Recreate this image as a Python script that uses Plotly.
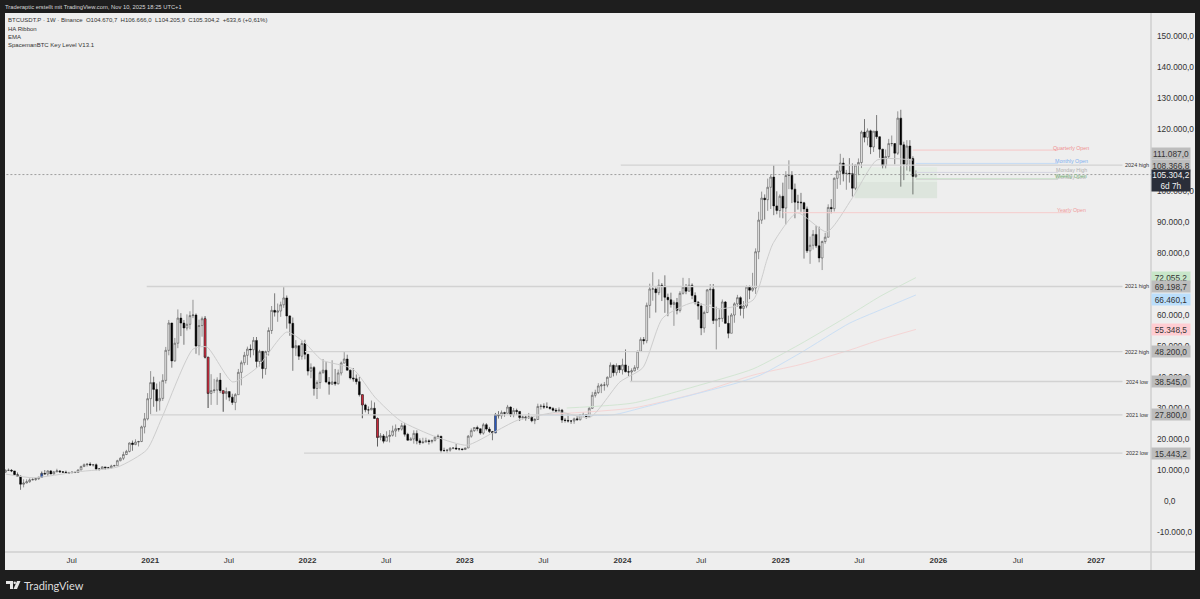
import numpy as np
import pandas as pd
import plotly.graph_objects as go

# Weekly candles, in thousands of USDT, first week is 2020-02-03
week_open = [
    # 2020
    9.3, 9.9, 9.9, 9.7, 8.5, 8.0, 5.4, 5.8, 6.2, 6.8, 6.9, 7.2, 7.7,
    8.9, 8.7, 9.7, 8.7, 9.4, 9.7, 9.4, 9.3, 9.0, 9.1, 9.3, 9.2, 10.0,
    11.1, 11.7, 11.9, 11.6, 11.7, 10.3, 10.3, 11.0, 10.7, 10.7, 11.3, 11.4, 13.0,
    13.8, 15.0, 16.0, 18.7, 18.2, 19.0, 19.2, 23.9, 26.5,
    # 2021
    33.0, 38.2, 36.0, 32.3, 33.1, 38.9, 48.6, 57.4, 45.2, 50.9, 59.0, 57.4, 55.8,
    57.0, 59.8, 60.0, 50.0, 56.6, 58.8, 46.4, 34.7, 35.6, 35.8, 39.0, 35.6, 34.7,
    35.3, 33.5, 31.8, 34.3, 41.5, 44.6, 47.0, 49.0, 48.8, 51.8, 45.0, 48.3, 42.7,
    48.2, 55.0, 61.5, 60.9, 61.3, 63.3, 65.5, 59.7, 57.3, 49.4, 50.1, 46.7, 50.8,
    # 2022
    47.3, 41.9, 43.1, 36.3, 38.2, 41.4, 42.2, 38.4, 37.7, 38.4, 37.8, 41.3, 44.5,
    45.8, 42.2, 39.7, 39.4, 38.5, 34.3, 31.0, 29.4, 29.4, 29.9, 26.6, 20.5, 21.0,
    19.3, 20.8, 21.2, 22.6, 23.3, 23.2, 24.3, 21.5, 19.6, 20.0, 21.8, 19.4, 18.8,
    19.0, 19.4, 19.2, 19.6, 20.6, 20.9, 16.3, 16.3, 16.4, 17.0, 17.1, 16.8, 16.8,
    # 2023
    16.6, 17.1, 20.9, 22.7, 23.7, 23.3, 21.9, 24.6, 23.2, 22.4, 22.0, 27.9, 27.5,
    28.5, 28.3, 30.3, 27.8, 29.2, 28.9, 26.9, 27.1, 26.8, 27.1, 25.9, 26.3, 30.5,
    30.6, 30.3, 30.3, 29.8, 29.3, 29.0, 29.3, 26.1, 26.0, 25.8, 25.8, 26.5, 26.2,
    27.9, 27.9, 27.2, 29.9, 34.1, 35.0, 37.1, 37.4, 37.4, 39.9, 43.8, 41.4, 43.7,
    # 2024
    42.3, 43.9, 41.7, 41.6, 42.0, 43.0, 48.3, 52.1, 51.7, 63.1, 68.4, 68.4, 67.2,
    69.6, 69.3, 65.7, 64.9, 63.4, 64.0, 61.5, 67.0, 69.0, 67.7, 69.6, 66.3, 64.2,
    62.9, 55.8, 60.8, 68.1, 68.3, 58.2, 58.7, 58.9, 64.2, 57.3, 54.1, 60.0, 63.6,
    65.6, 62.1, 62.9, 69.0, 68.0, 68.7, 80.4, 90.6, 97.7, 97.2, 101.2, 104.5, 95.2, 93.7,
    # 2025
    98.3, 94.5, 105.0, 105.1, 100.6, 96.4, 96.4, 96.2, 94.2, 80.7, 82.5, 86.0, 82.3,
    78.4, 83.7, 85.1, 94.7, 94.3, 104.1, 106.4, 109.0, 105.6, 105.7, 105.6, 100.9, 108.4,
    109.2, 119.0, 117.3, 119.4, 114.2, 119.3, 117.5, 113.5, 108.2, 111.1, 115.3, 115.3, 112.2,
    123.5, 114.9, 108.6, 114.5, 110.5, 104.67,
]
week_high = [
    # 2020
    10.2, 10.5, 10.3, 9.7, 9.2, 8.2, 7.0, 7.0, 7.3, 7.5, 7.3, 7.8, 9.5,
    10.0, 9.9, 10.0, 9.7, 10.4, 10.0, 9.6, 9.8, 9.4, 9.5, 9.3, 10.2, 11.4,
    12.1, 12.1, 12.5, 11.8, 12.1, 10.6, 11.2, 11.0, 11.0, 11.7, 11.7, 13.3, 14.1,
    15.9, 16.5, 18.9, 19.5, 19.9, 19.4, 24.3, 28.4, 34.8,
    # 2021
    41.9, 40.1, 37.9, 38.5, 40.9, 49.7, 58.4, 57.5, 52.6, 61.8, 60.6, 58.4, 60.2,
    61.2, 64.9, 60.5, 58.5, 59.5, 59.6, 46.4, 40.9, 39.4, 39.9, 41.3, 35.6, 36.6,
    35.3, 34.6, 34.8, 42.6, 45.3, 48.1, 49.8, 50.5, 52.9, 52.9, 48.8, 48.3, 48.5,
    56.0, 62.9, 67.0, 63.7, 64.3, 69.0, 66.3, 59.9, 59.2, 51.9, 50.1, 51.8, 52.0,
    # 2022
    47.5, 44.4, 43.5, 38.9, 42.0, 45.8, 44.8, 40.0, 45.4, 42.6, 42.4, 45.0, 48.2,
    47.2, 42.4, 42.9, 40.8, 40.0, 34.3, 31.4, 30.5, 32.4, 31.8, 26.9, 21.9, 21.6,
    22.5, 22.9, 24.3, 24.7, 23.5, 25.2, 25.2, 22.0, 20.6, 22.8, 22.8, 20.2, 20.4,
    20.4, 19.9, 19.7, 21.0, 21.5, 21.0, 17.2, 16.8, 17.4, 17.4, 18.4, 17.0, 16.9,
    # 2023
    17.2, 21.3, 23.4, 23.8, 24.3, 23.4, 25.2, 25.1, 23.9, 22.6, 28.4, 29.0, 29.2,
    28.8, 31.0, 30.5, 30.0, 29.8, 29.0, 27.6, 27.5, 28.4, 27.4, 26.8, 31.4, 31.3,
    31.5, 31.8, 30.3, 30.3, 30.0, 30.2, 29.7, 26.8, 28.2, 26.1, 26.9, 27.5, 28.0,
    28.6, 28.0, 30.3, 35.2, 35.9, 38.0, 37.9, 38.4, 40.2, 44.7, 44.0, 44.4, 43.8,
    # 2024
    45.9, 48.9, 43.6, 42.8, 43.8, 48.5, 52.8, 52.9, 64.0, 70.1, 73.8, 68.9, 71.5,
    70.3, 72.8, 66.9, 67.2, 64.7, 65.5, 67.7, 72.0, 70.0, 71.9, 70.2, 67.3, 64.4,
    63.8, 61.4, 68.4, 70.0, 70.0, 62.7, 61.8, 65.0, 64.5, 59.8, 60.6, 64.1, 66.5,
    66.0, 64.5, 69.5, 69.5, 73.6, 81.5, 93.3, 99.8, 98.9, 104.0, 105.2, 108.3, 99.9, 98.9,
    # 2025
    102.7, 106.4, 109.9, 106.4, 102.4, 98.8, 99.4, 96.5, 95.0, 85.3, 87.4, 88.8, 88.5,
    84.0, 86.5, 95.7, 97.4, 104.4, 106.6, 112.0, 110.7, 106.8, 110.6, 108.9, 108.5, 110.5,
    119.5, 123.2, 120.2, 119.8, 119.3, 124.5, 117.6, 113.6, 113.4, 116.8, 117.9, 115.4, 125.7,
    126.2, 115.9, 116.4, 116.4, 111.2, 106.67,
]
week_low = [
    # 2020
    9.1, 9.7, 9.3, 8.4, 8.0, 3.6, 4.4, 5.7, 5.9, 6.7, 6.5, 6.8, 7.7,
    8.6, 8.1, 8.8, 8.6, 9.3, 9.1, 9.2, 8.9, 8.9, 9.0, 9.0, 9.1, 10.0,
    11.0, 11.1, 11.4, 11.1, 9.9, 9.8, 10.2, 10.1, 10.3, 10.5, 11.2, 11.4, 12.8,
    13.2, 14.8, 15.7, 16.2, 18.0, 17.6, 19.0, 21.8, 26.0,
    # 2021
    28.0, 30.4, 28.8, 29.2, 32.3, 37.9, 47.0, 43.0, 44.9, 49.3, 53.2, 50.4, 55.0,
    55.4, 59.0, 47.5, 47.0, 53.0, 46.0, 30.0, 31.0, 34.8, 31.0, 34.8, 28.8, 32.7,
    32.2, 31.0, 29.3, 34.3, 37.3, 43.8, 43.9, 46.3, 47.0, 43.0, 43.4, 39.5, 40.7,
    46.9, 53.9, 59.5, 57.8, 59.4, 62.3, 55.6, 53.3, 42.0, 46.8, 45.5, 45.6, 45.7,
    # 2022
    40.5, 39.6, 34.0, 32.9, 36.2, 41.1, 38.0, 34.3, 37.4, 37.2, 37.6, 40.5, 44.4,
    42.1, 39.2, 38.5, 37.6, 33.7, 26.7, 28.6, 28.0, 29.3, 26.5, 17.6, 19.6, 18.6,
    19.3, 18.9, 20.8, 20.7, 22.4, 22.7, 20.8, 19.5, 19.5, 18.5, 18.3, 18.1, 18.5,
    19.0, 18.2, 18.6, 19.2, 20.0, 15.6, 15.8, 15.5, 15.9, 16.7, 16.5, 16.3, 16.3,
    # 2023
    16.5, 17.1, 20.4, 22.3, 22.5, 21.4, 21.4, 22.7, 21.9, 19.6, 21.9, 26.6, 26.5,
    27.2, 28.2, 27.1, 27.0, 27.7, 25.8, 26.3, 25.9, 26.5, 25.4, 24.8, 26.2, 29.5,
    29.7, 29.9, 29.5, 28.9, 28.6, 28.7, 25.2, 25.3, 25.3, 24.9, 24.9, 26.0, 26.0,
    27.2, 26.5, 27.0, 29.7, 33.4, 34.5, 34.8, 35.6, 36.7, 39.9, 40.2, 40.5, 41.3,
    # 2024
    40.8, 41.5, 40.3, 38.5, 41.8, 42.3, 48.3, 50.5, 50.9, 59.0, 64.6, 60.8, 66.4,
    64.5, 60.7, 59.6, 62.4, 56.5, 60.2, 60.8, 66.6, 66.7, 67.5, 65.1, 63.4, 58.5,
    53.5, 54.3, 60.6, 63.4, 57.1, 48.9, 56.1, 57.8, 57.2, 52.5, 54.1, 57.5, 62.6,
    59.8, 58.9, 62.2, 65.1, 67.5, 66.8, 78.0, 89.4, 90.8, 93.6, 94.2, 92.2, 92.5, 91.4,
    # 2025
    91.2, 89.2, 100.6, 96.1, 91.2, 94.0, 93.3, 78.2, 80.0, 76.5, 81.1, 81.6, 77.0,
    74.5, 83.0, 85.0, 92.8, 93.4, 100.7, 102.0, 103.1, 100.4, 102.7, 98.2, 100.3, 105.1,
    107.4, 115.7, 114.7, 111.9, 112.6, 116.8, 110.7, 107.3, 107.3, 110.6, 114.4, 108.6, 111.6,
    101.4, 103.5, 106.6, 106.3, 98.9, 104.21,
]
week_close = [
    # 2020
    9.9, 9.9, 9.7, 8.5, 8.0, 5.4, 5.8, 6.2, 6.8, 6.9, 7.2, 7.7, 8.9,
    8.7, 9.7, 8.7, 9.4, 9.7, 9.4, 9.3, 9.0, 9.1, 9.3, 9.2, 10.0, 11.1,
    11.7, 11.9, 11.6, 11.7, 10.3, 10.3, 11.0, 10.7, 10.7, 11.3, 11.4, 13.0, 13.8,
    15.0, 16.0, 18.7, 18.2, 19.0, 19.2, 23.9, 26.5, 33.0,
    # 2021
    38.2, 36.0, 32.3, 33.1, 38.9, 48.6, 57.4, 45.2, 50.9, 59.0, 57.4, 55.8, 57.0,
    59.8, 60.0, 50.0, 56.6, 58.8, 46.4, 34.7, 35.6, 35.8, 39.0, 35.6, 34.7, 35.3,
    33.5, 31.8, 34.3, 41.5, 44.6, 47.0, 49.0, 48.8, 51.8, 45.0, 48.3, 42.7, 48.2,
    55.0, 61.5, 60.9, 61.3, 63.3, 65.5, 59.7, 57.3, 49.4, 50.1, 46.7, 50.8, 47.3,
    # 2022
    41.9, 43.1, 36.3, 38.2, 41.4, 42.2, 38.4, 37.7, 38.4, 37.8, 41.3, 44.5, 45.8,
    42.2, 39.7, 39.4, 38.5, 34.3, 31.0, 29.4, 29.4, 29.9, 26.6, 20.5, 21.0, 19.3,
    20.8, 21.2, 22.6, 23.3, 23.2, 24.3, 21.5, 19.6, 20.0, 21.8, 19.4, 18.8, 19.0,
    19.4, 19.2, 19.6, 20.6, 20.9, 16.3, 16.3, 16.4, 17.0, 17.1, 16.8, 16.8, 16.6,
    # 2023
    17.1, 20.9, 22.7, 23.7, 23.3, 21.9, 24.6, 23.2, 22.4, 22.0, 27.9, 27.5, 28.5,
    28.3, 30.3, 27.8, 29.2, 28.9, 26.9, 27.1, 26.8, 27.1, 25.9, 26.3, 30.5, 30.6,
    30.3, 30.3, 29.8, 29.3, 29.0, 29.3, 26.1, 26.0, 25.8, 25.8, 26.5, 26.2, 27.9,
    27.9, 27.2, 29.9, 34.1, 35.0, 37.1, 37.4, 37.4, 39.9, 43.8, 41.4, 43.7, 42.3,
    # 2024
    43.9, 41.7, 41.6, 42.0, 43.0, 48.3, 52.1, 51.7, 63.1, 68.4, 68.4, 67.2, 69.6,
    69.3, 65.7, 64.9, 63.4, 64.0, 61.5, 67.0, 69.0, 67.7, 69.6, 66.3, 64.2, 62.9,
    55.8, 60.8, 68.1, 68.3, 58.2, 58.7, 58.9, 64.2, 57.3, 54.1, 60.0, 63.6, 65.6,
    62.1, 62.9, 69.0, 68.0, 68.7, 80.4, 90.6, 97.7, 97.2, 101.2, 104.5, 95.2, 93.7, 98.3,
    # 2025
    94.5, 105.0, 105.1, 100.6, 96.4, 96.4, 96.2, 94.2, 80.7, 82.5, 86.0, 82.3, 78.4,
    83.7, 85.1, 94.7, 94.3, 104.1, 106.4, 109.0, 105.6, 105.7, 105.6, 100.9, 108.4, 109.2,
    119.0, 117.3, 119.4, 114.2, 119.3, 117.5, 113.5, 108.2, 111.1, 115.3, 115.3, 112.2, 123.5,
    114.9, 108.6, 114.5, 110.5, 104.7, 105.3,
]
assert len(week_open) == len(week_high) == len(week_low) == len(week_close)

# Candles the HA Ribbon paints in another colour
red_weeks = ["2021-05-10", "2021-05-17", "2021-06-21", "2022-05-09", "2022-06-13"]
blue_weeks = ["2020-04-27", "2023-03-13"]

# EMA (thousands)
ema_dates = [
    "2020-02-03", "2020-04-07", "2020-07-17", "2020-10-20", "2020-12-26", "2021-01-30",
    "2021-04-12", "2021-05-14", "2021-07-13", "2021-09-07", "2021-11-15", "2021-12-27",
    "2022-02-04", "2022-04-17", "2022-06-07", "2022-08-04", "2022-10-28", "2023-01-06",
    "2023-03-07", "2023-05-02", "2023-06-24", "2023-08-09", "2023-10-18", "2023-12-26",
    "2024-02-17", "2024-04-03", "2024-06-12", "2024-08-13", "2024-10-29", "2024-11-30",
    "2024-12-14", "2025-02-08", "2025-04-18", "2025-06-17", "2025-08-12", "2025-11-03",
]
ema_values = [
    8.7, 7.5, 9.4, 11.0, 16.5, 26.8, 49.0, 49.7, 38.4, 43.0, 54.5, 51.0,
    45.5, 42.6, 33.5, 26.0, 20.6, 18.0, 22.0, 26.0, 27.7, 28.7, 27.0, 38.4,
    43.0, 59.0, 64.0, 62.0, 64.8, 77.7, 83.0, 93.0, 86.8, 98.0, 110.0, 110.0,
]

# MA ribbon lines (thousands)
ribbon_green_dates = ["2023-08-25", "2024-01-25", "2024-06-28", "2024-10-29", "2025-02-15", "2025-06-10", "2025-08-19", "2025-11-10"]
ribbon_green = [30.0, 31.6, 37.4, 42.6, 50.6, 60.0, 66.0, 72.06]
ribbon_red_dates = ["2023-06-24", "2024-01-25", "2024-06-28", "2024-10-29", "2025-02-15", "2025-06-10", "2025-08-19", "2025-11-10"]
ribbon_red = [27.8, 30.0, 35.0, 40.6, 44.0, 48.7, 52.0, 55.35]
ribbon_blue_dates = ["2023-06-24", "2023-12-10", "2024-02-13", "2024-09-20", "2024-11-15", "2025-02-15", "2025-06-10", "2025-08-19", "2025-11-10"]
ribbon_blue = [27.8, 27.8, 30.0, 38.0, 40.6, 47.7, 57.4, 61.6, 66.46]

# Key levels with a small label at the right
level_names = ["2024 high", "2021 high", "2022 high", "2024 low", "2021 low", "2022 low"]
level_values = [108366.8, 69198.7, 48200.0, 38545.0, 27800.0, 15443.2]
level_starts = ["2023-12-28", "2020-12-26", "2021-12-27", "2024-01-18", "2021-01-03", "2021-12-25"]
level_end = "2027-03-03"

# Open levels
open_names = ["Quarterly Open", "Monthly Open", "Monday High", "Monday Low", "Weekly Open", "Yearly Open"]
open_values = [113200, 108900, 106000, 103700, 104000, 93000]
open_starts = ["2025-11-03", "2025-11-10", "2025-11-10", "2025-11-10", "2025-11-10", "2025-01-06"]
open_ends = ["2026-10-05", "2026-10-05", "2026-10-05", "2026-10-05", "2026-10-05", "2026-11-01"]
open_colors = ["#f6c6c6", "#c4dbf5", "#d4d4e0", "#d6d6d6", "#cde2cd", "#f6cccc"]
open_text_colors = ["#ef8f8f", "#7fb0ee", "#b0b0b0", "#b8b8b8", "#7db87d", "#ef9a9a"]

# Green zone
zone_start = "2025-06-21"
zone_end = "2025-12-29"
zone_edges = [107700, 102900, 97700]

last_price = 105304.2

# Axis labels
price_ticks = [150000, 140000, 130000, 120000, 100000, 90000, 80000, 60000, 50000, 40000, 30000, 20000, 10000, 0, -10000]
price_labels = ["150.000,0", "140.000,0", "130.000,0", "120.000,0", "100.000,0", "90.000,0", "80.000,0",
                "60.000,0", "50.000,0", "40.000,0", "30.000,0", "20.000,0", "10.000,0", "\u00a0\u00a0\u00a00,0", "-10.000,0"]
time_ticks = ["2020-07-05", "2021-01-03", "2021-07-04", "2022-01-02", "2022-07-03", "2023-01-01", "2023-07-02",
              "2024-01-01", "2024-07-01", "2025-01-01", "2025-07-02", "2026-01-01", "2026-07-04", "2027-01-01"]
time_labels = ["Jul", "<b>2021</b>", "Jul", "<b>2022</b>", "Jul", "<b>2023</b>", "Jul",
               "<b>2024</b>", "Jul", "<b>2025</b>", "Jul", "<b>2026</b>", "Jul", "<b>2027</b>"]

# Price badges on the axis
badge_values = [111087.0, 108366.8, 72055.2, 69198.7, 66460.1, 55348.5, 48200.0, 38545.0, 27800.0, 15443.2]
badge_fills = ["#bdbdbd", "#bdbdbd", "#c8e6c9", "#bdbdbd", "#bbdefb", "#ffcdd2", "#bdbdbd", "#bdbdbd", "#bdbdbd", "#bdbdbd"]
badge_shifts = [-3, 0, 0, 0, 5, 0, 0, 0, 0, 0]

W, H = 1200, 599
FONT = "Liberation Sans"


def px(x):
    return x / W


def py(y):
    return 1 - y / H


def price_text(v):
    return f"{v:,.1f}".replace(",", "X").replace(".", ",").replace("X", ".")


dates = pd.date_range("2020-02-03", periods=len(week_close), freq="7D")
o = np.array(week_open) * 1000
h = np.array(week_high) * 1000
l = np.array(week_low) * 1000
c = np.array(week_close) * 1000

fig = go.Figure()

# Ribbon + EMA under the candles
for xs, ys, col in [(ribbon_green_dates, ribbon_green, "#d3e6d3"),
                    (ribbon_red_dates, ribbon_red, "#f5d5d5"),
                    (ribbon_blue_dates, ribbon_blue, "#cbdff5"),
                    (ema_dates, ema_values, "#cdcdcd")]:
    fig.add_trace(go.Scatter(x=xs, y=np.array(ys) * 1000, mode="lines",
                             line=dict(color=col, width=1, shape="spline", smoothing=0.6),
                             hoverinfo="skip"))

for start, val in zip(level_starts, level_values):
    fig.add_trace(go.Scatter(x=[start, level_end], y=[val, val], mode="lines",
                             line=dict(color="#d2d2d2", width=1.3), hoverinfo="skip"))

for start, end, val, col in zip(open_starts, open_ends, open_values, open_colors):
    fig.add_trace(go.Scatter(x=[start, end], y=[val, val], mode="lines",
                             line=dict(color=col, width=1), hoverinfo="skip"))

# last price line
fig.add_trace(go.Scatter(x=[dates[0] - pd.Timedelta(days=7), "2027-05-08"], y=[last_price, last_price], mode="lines",
                         line=dict(color="#8a8a8a", width=0.8, dash="2px,2px"), hoverinfo="skip"))

# Candles
fig.add_trace(go.Candlestick(
    x=dates, open=o, high=h, low=l, close=c, whiskerwidth=0,
    increasing=dict(line=dict(color="#3a3a3a", width=0.5), fillcolor="#ededed"),
    decreasing=dict(line=dict(color="#000000", width=0.5), fillcolor="#000000"),
    hoverinfo="skip"))

red_mask = dates.isin(pd.to_datetime(red_weeks))
blue_mask = dates.isin(pd.to_datetime(blue_weeks))
for mask, col in [(red_mask, "#d8283c"), (blue_mask, "#2a5bc8")]:
    fig.add_trace(go.Candlestick(
        x=dates[mask], open=o[mask], high=h[mask], low=l[mask], close=c[mask], whiskerwidth=0,
        increasing=dict(line=dict(color="#3a3a3a", width=0.4), fillcolor=col),
        decreasing=dict(line=dict(color="#3a3a3a", width=0.4), fillcolor=col),
        hoverinfo="skip"))

shapes = [
    # light chart card on the dark page
    dict(type="rect", xref="paper", yref="paper", x0=px(5), x1=px(1195), y0=py(570), y1=py(13),
         fillcolor="#eeeeee", line_width=0, layer="below"),
    # axis separators
    dict(type="line", xref="paper", yref="paper", x0=px(1151), x1=px(1151), y0=py(570), y1=py(13),
         line=dict(color="#cfcfcf", width=1.5), layer="below"),
    dict(type="line", xref="paper", yref="paper", x0=px(5), x1=px(1195), y0=py(552), y1=py(552),
         line=dict(color="#cfcfcf", width=1.5), layer="below"),
    # green zone
    dict(type="rect", xref="x", yref="y", x0=zone_start, x1=zone_end, y0=zone_edges[1], y1=zone_edges[0],
         fillcolor="#e5ede5", line_width=0, layer="below"),
    dict(type="rect", xref="x", yref="y", x0=zone_start, x1=zone_end, y0=zone_edges[2], y1=zone_edges[1],
         fillcolor="#dde5dd", line_width=0, layer="below"),
    # TradingView mark
    dict(type="path", xref="paper", yref="paper",
         path=f"M {px(6)} {py(581)} L {px(13)} {py(581)} L {px(13)} {py(589)} L {px(10)} {py(589)} L {px(10)} {py(584)} L {px(6)} {py(584)} Z",
         fillcolor="#e6e6e6", line_width=0),
    dict(type="circle", xref="paper", yref="paper", x0=px(13.5), x1=px(16), y0=py(584), y1=py(581.5),
         fillcolor="#e6e6e6", line_width=0),
    dict(type="path", xref="paper", yref="paper",
         path=f"M {px(17)} {py(581)} L {px(20.5)} {py(581)} L {px(17)} {py(589)} L {px(13.5)} {py(589)} Z",
         fillcolor="#e6e6e6", line_width=0),
]

ann = []


def add_text(x, y, text, size=6, color="#333333", anchor="left", family=FONT):
    ann.append(dict(xref="paper", yref="paper", x=px(x), y=py(y), text=text, showarrow=False,
                    xanchor=anchor, yanchor="middle", borderpad=0, font=dict(family=family, size=size, color=color)))


add_text(4, 7, "Traderaptic erstellt mit TradingView.com, Nov 10, 2025 18:25 UTC+1", 5.8, "#d8d8d8")
add_text(7, 20, "BTCUSDT.P · 1W · Binance  O104.670,7  H106.666,0  L104.205,9  C105.304,2  +633,6 (+0,61%)", 6)
add_text(7, 29, "HA Ribbon", 6)
add_text(7, 37, "EMA", 6)
add_text(7, 45, "SpacemanBTC Key Level V13.1", 6)
add_text(23, 585, "TradingView", 11, "#dddddd", family="Lato")

# key level names, right of the lines
for name, val in zip(level_names, level_values):
    ann.append(dict(xref="paper", yref="y", x=px(1136.5), y=val, text=name, showarrow=False, xanchor="center",
                    yanchor="middle", font=dict(family=FONT, size=5.5, color="#333333")))

# open level names sit just over their lines
for name, val, col in zip(open_names, open_values, open_text_colors):
    ann.append(dict(xref="paper", yref="y", x=px(1071), y=val, text=name, showarrow=False, xanchor="center",
                    yanchor="middle", yshift=2.5, font=dict(family=FONT, size=5.3, color=col)))

# price badges
for val, fill, shift in zip(badge_values, badge_fills, badge_shifts):
    ann.append(dict(xref="paper", yref="y", x=px(1170.5), y=val, text=price_text(val), showarrow=False,
                    xanchor="center", yanchor="middle", yshift=-shift, width=38, height=11, borderpad=0, bgcolor=fill,
                    font=dict(family=FONT, size=8.3, color="#333333")))

# last price badge with countdown
ann.append(dict(xref="paper", yref="y", x=px(1170.5), y=last_price, text=price_text(last_price) + "<br>6d 7h",
                showarrow=False, xanchor="center", yanchor="middle", yshift=-5.5, width=38, height=21, borderpad=0,
                bgcolor="#2a2e39", font=dict(family=FONT, size=8.3, color="#f0f0f0")))

fig.update_layout(
    width=W, height=H,
    margin=dict(l=0, r=0, t=0, b=0),
    paper_bgcolor="#1e1e1e",
    plot_bgcolor="rgba(0,0,0,0)",
    showlegend=False,
    shapes=shapes,
    annotations=ann,
    hovermode=False,
    boxgap=0.15,
    xaxis=dict(
        domain=[px(5), px(1151)], type="date", range=["2020-02-02", "2027-05-08"],
        rangeslider=dict(visible=False), showgrid=False, zeroline=False, showline=False,
        tickmode="array", tickvals=time_ticks, ticktext=time_labels, ticks="", ticklabelstandoff=2,
        tickfont=dict(family=FONT, size=8, color="#333333"),
    ),
    yaxis=dict(
        domain=[py(552), py(14)], range=[-16452, 157097], side="right",
        showgrid=False, zeroline=False, showline=False,
        tickmode="array", tickvals=price_ticks, ticktext=price_labels, ticks="", ticklabelstandoff=5,
        tickfont=dict(family=FONT, size=8.3, color="#333333"),
    ),
)

fig.write_html("out.html", config=dict(displayModeBar=False),
               post_script="document.body.style.margin='0';document.body.style.overflow='hidden';")
